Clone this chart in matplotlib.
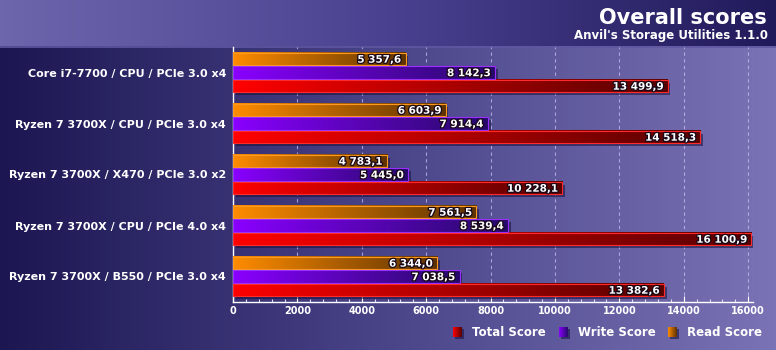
import matplotlib
matplotlib.use("Agg")
import matplotlib.pyplot as plt
import numpy as np
from matplotlib.colors import LinearSegmentedColormap
from matplotlib.patches import Rectangle
from matplotlib.ticker import MultipleLocator
import matplotlib.transforms as mtransforms
import matplotlib.patheffects as pe

categories = ['Core i7-7700 / CPU / PCIe 3.0 x4',
              'Ryzen 7 3700X / CPU / PCIe 3.0 x4',
              'Ryzen 7 3700X / X470 / PCIe 3.0 x2',
              'Ryzen 7 3700X / CPU / PCIe 4.0 x4',
              'Ryzen 7 3700X / B550 / PCIe 3.0 x4']
read_score = [5357.6, 6603.9, 4783.1, 7561.5, 6344.0]
write_score = [8142.3, 7914.4, 5445.0, 8539.4, 7038.5]
total_score = [13499.9, 14518.3, 10228.1, 16100.9, 13382.6]
legend_names = ['Total Score', 'Write Score', 'Read Score']

W, H = 776, 350
plt.rcParams['font.family'] = 'DejaVu Sans'
fig = plt.figure(figsize=(W / 100, H / 100), dpi=100)

# background (pixel coordinates)
bg = fig.add_axes([0, 0, 1, 1], zorder=0)
bg.set_xlim(0, W)
bg.set_ylim(H, 0)
bg.axis('off')
grad = np.linspace(0, 1, 256).reshape(1, -1)
main_cm = LinearSegmentedColormap.from_list('main', ['#1c1752', '#4a4489', '#7a74b6'])
head_cm = LinearSegmentedColormap.from_list('head', ['#6e66ac', '#4a4290', '#211a5a'])
bg.imshow(grad, cmap=main_cm, extent=[0, W, H, 46], aspect='auto')
bg.imshow(grad, cmap=head_cm, extent=[0, W, 46, 0], aspect='auto')
bg.plot([0, W], [46.5, 46.5], color='#5f58a2', lw=1.2)

bg.text(767, 24, 'Overall scores', color='white', fontsize=15, fontweight='bold',
        ha='right', va='baseline')
bg.text(768, 39, "Anvil's Storage Utilities 1.1.0", color='white', fontsize=8.5,
        fontweight='bold', ha='right', va='baseline')

# colours: (start, end, edge)
cols = {
    'read': ('#ff8c00', '#5c3200', '#ff9a20'),
    'write': ('#8a00ff', '#26096a', '#9a30ff'),
    'total': ('#ff0000', '#560000', '#ff2a2a'),
}

# legend
leg_x = [453, 559, 668]
for name, key, x0 in zip(legend_names, ['total', 'write', 'read'], leg_x):
    c0, c1, ce = cols[key]
    bg.add_patch(Rectangle((x0 + 1.5, 328.5), 9, 10, color='#1a1445', alpha=0.6, lw=0))
    cm = LinearSegmentedColormap.from_list(key + 'l', [c0, c1])
    bg.imshow(grad, cmap=cm, extent=[x0, x0 + 9, 337, 327], aspect='auto', zorder=3)
    bg.text(x0 + 19, 332.5, name, color='white', fontsize=8.5, fontweight='bold',
            ha='left', va='center')
bg.set_xlim(0, W)
bg.set_ylim(H, 0)

# chart
xmax = 16150
ax = fig.add_axes([233 / W, (H - 302) / H, 520 / W, 255 / H], zorder=1)
ax.patch.set_alpha(0)

y = np.arange(len(categories))
off = 0.265
bh = 0.245
shadow = ax.transData + mtransforms.ScaledTranslation(2 / 72, -2 / 72, fig.dpi_scale_trans)

def fmt(v):
    return f'{v:,.1f}'.replace(',', ' ').replace('.', ',')

for vals, key, dy in [(read_score, 'read', -off), (write_score, 'write', 0), (total_score, 'total', off)]:
    c0, c1, ce = cols[key]
    cm = LinearSegmentedColormap.from_list(key, [c0, c1])
    for yi, v in zip(y, vals):
        yc = yi + dy
        ax.add_patch(Rectangle((0, yc - bh / 2), v, bh, color='#140f3a', alpha=0.55,
                               lw=0, transform=shadow, zorder=2))
        ax.imshow(grad, cmap=cm, extent=[0, v, yc + bh / 2, yc - bh / 2],
                  aspect='auto', zorder=3)
        ax.add_patch(Rectangle((0, yc - bh / 2), v, bh, fill=False, edgecolor=ce,
                               lw=0.8, zorder=4))
        ax.annotate(fmt(v), (v, yc), xytext=(-3, -0.5), textcoords='offset points',
                    ha='right', va='center', color='white', fontsize=7.5,
                    fontweight='bold', zorder=5,
                    path_effects=[pe.withStroke(linewidth=1.8, foreground='#180818')])

ax.set_xlim(0, xmax)
ax.set_ylim(len(categories) - 0.5, -0.5)
ax.set_aspect('auto')

ax.xaxis.set_major_locator(MultipleLocator(2000))
ax.xaxis.set_minor_locator(MultipleLocator(400))
ax.grid(axis='x', which='major', color='#c8c0ee', linestyle=(0, (3, 3)), lw=0.8,
        alpha=0.75, zorder=1)
ax.axvline(xmax, color='#c8c0ee', linestyle=(0, (3, 3)), lw=0.8, alpha=0.75, zorder=1)
ax.set_axisbelow(True)

ax.set_yticks(y)
ax.set_yticklabels(categories)
ax.tick_params(axis='y', length=0, pad=5, labelcolor='white', labelsize=8)
for t in ax.get_yticklabels():
    t.set_fontweight('bold')
ax.tick_params(axis='x', which='major', direction='in', length=4, width=0.8,
               color='white', labelcolor='white', labelsize=7, pad=3)
ax.tick_params(axis='x', which='minor', direction='in', length=2.5, width=0.8,
               color='#e0dcf4')
for t in ax.get_xticklabels():
    t.set_fontweight('bold')

for s in ['top', 'right']:
    ax.spines[s].set_visible(False)
for s in ['left', 'bottom']:
    ax.spines[s].set_color('white')
    ax.spines[s].set_linewidth(1)

fig.savefig('out.png', dpi=100)
